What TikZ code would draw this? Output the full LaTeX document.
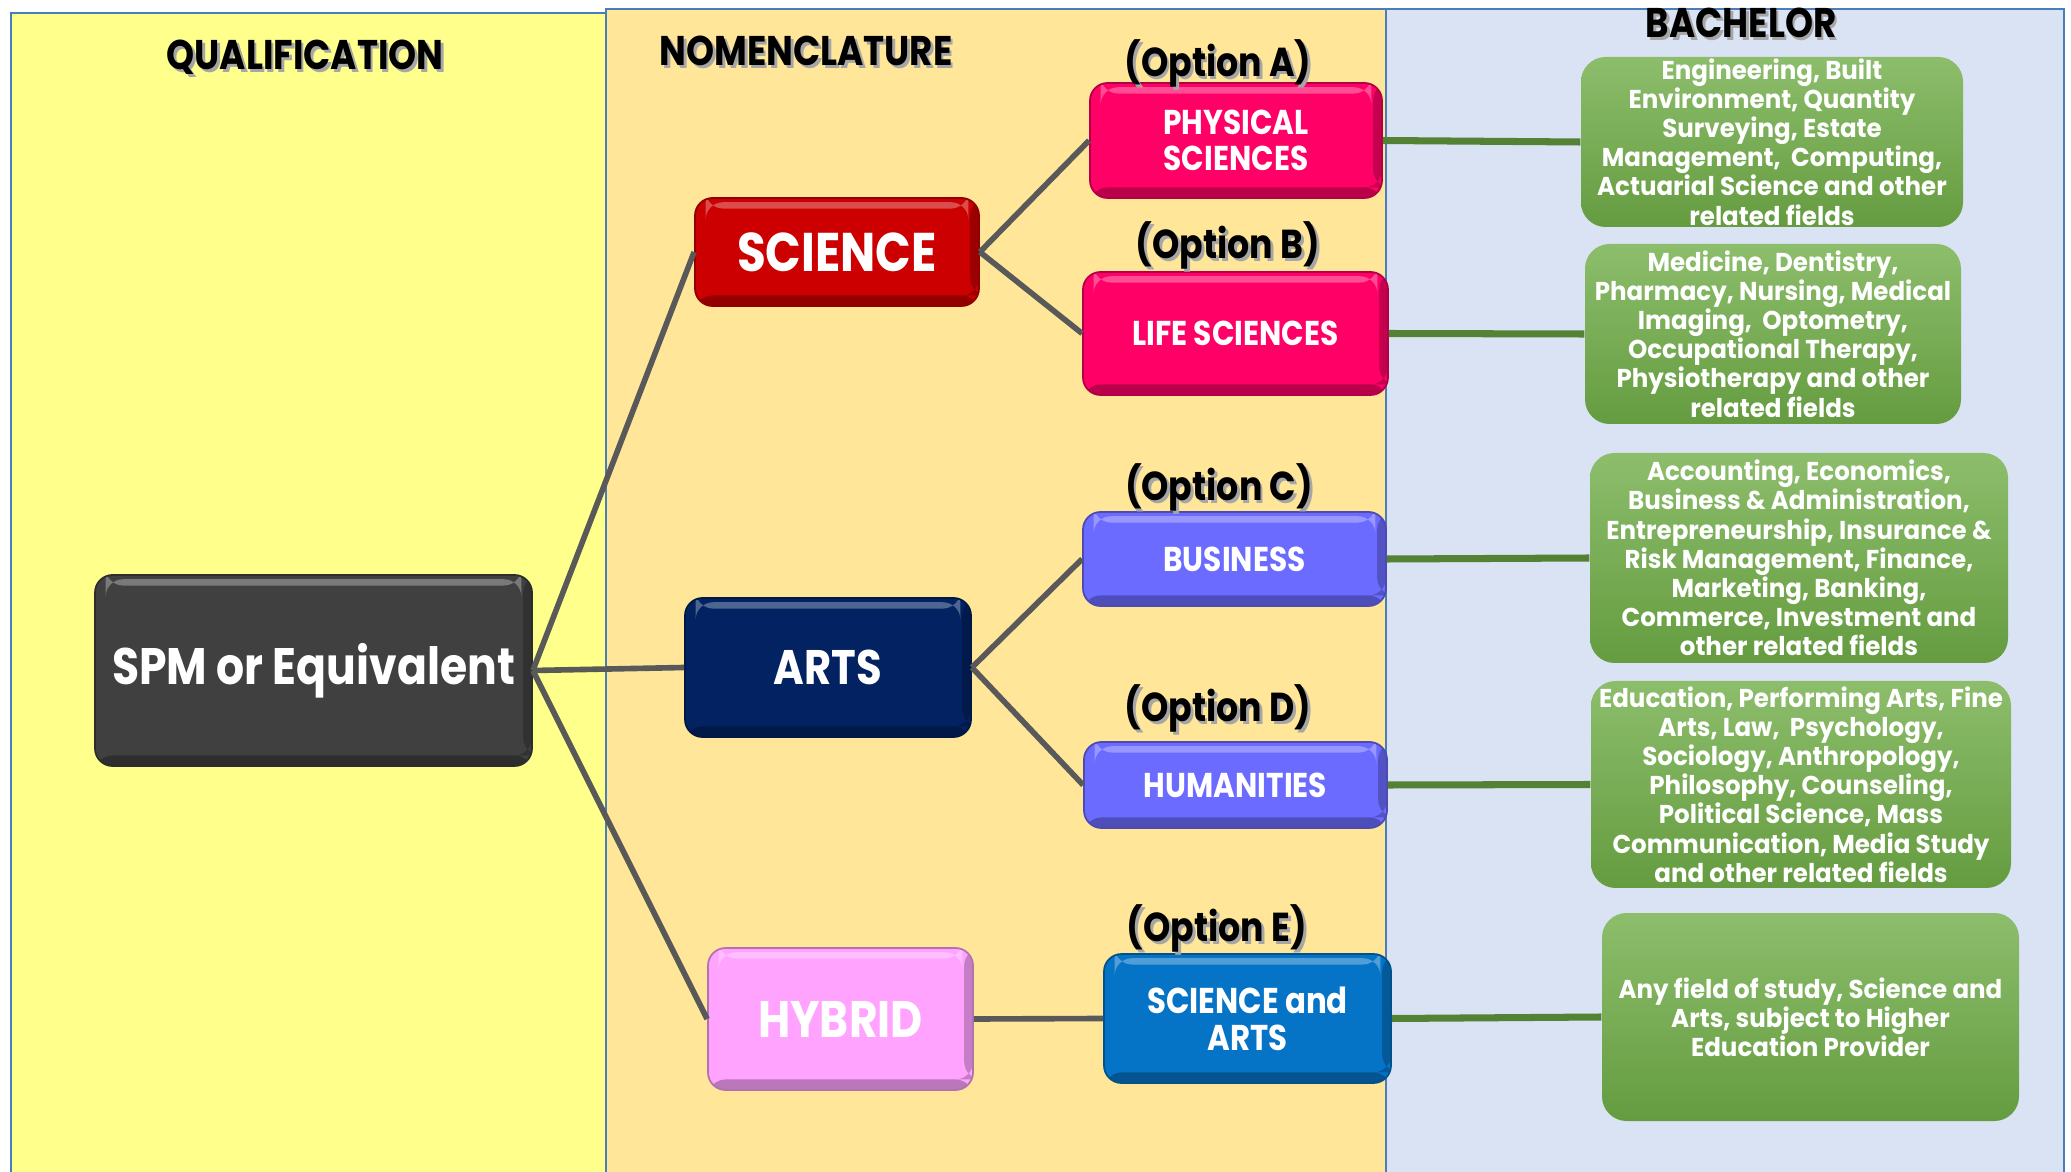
\documentclass[tikz,border=0pt]{standalone}
\usepackage{fontspec}
\setmainfont{Poppins}[FakeStretch=0.86]
\newfontfamily\fieldfont{Poppins}[FakeStretch=0.95]
\usetikzlibrary{shadows}

\definecolor{qualbg}{HTML}{FFFF8B}
\definecolor{nomenbg}{HTML}{FFE699}
\definecolor{bachbg}{HTML}{DAE3F3}
\definecolor{panelline}{HTML}{4A7EBB}
\definecolor{spmgray}{HTML}{404040}
\definecolor{scired}{HTML}{CC0000}
\definecolor{scipink}{HTML}{FF0066}
\definecolor{artsnavy}{HTML}{022262}
\definecolor{artsviolet}{HTML}{6B6BFF}
\definecolor{hybpink}{HTML}{FFA3FF}
\definecolor{hybblue}{HTML}{0574C6}
\definecolor{fieldgreen}{HTML}{70AD47}
\definecolor{linkgray}{HTML}{595959}
\definecolor{linkgreen}{HTML}{548235}

\newcommand{\shadowed}[1]{\makebox[0pt][l]{\hspace{0.8pt}\raisebox{-0.8pt}{\textcolor{black!35}{#1}}}#1}

\tikzset{
  panel/.style={draw=panelline, line width=0.6pt},
  heading/.style={font=\fontsize{11.8}{13}\selectfont\bfseries},
  option/.style={font=\fontsize{11.5}{13}\selectfont\bfseries},
  bevelbox/.style={rounded corners=5pt, fill=#1, draw=#1!70!black, line width=0.5pt,
    text=white, align=center, inner sep=0pt, font=\fontsize{9.8}{10.4}\selectfont\bfseries,
    path picture={
      \fill[#1!55!black, opacity=0.6] (path picture bounding box.south west) rectangle ([yshift=3pt]path picture bounding box.south east);
      \fill[#1!55!black, opacity=0.5] ([xshift=-2.5pt,yshift=3pt]path picture bounding box.south east) rectangle (path picture bounding box.north east);
      \fill[white, opacity=0.3] ([xshift=3pt,yshift=-1.2pt]path picture bounding box.north west) rectangle ([xshift=-3pt,yshift=-3pt]path picture bounding box.north east);
    }},
  bigbox/.style={bevelbox=#1, font=\fontsize{14.6}{16}\selectfont\bfseries},
  fieldbox/.style={rounded corners=7pt, top color=fieldgreen!80!white, bottom color=fieldgreen!90!black,
    text=white, align=center, inner sep=0pt, font=\fieldfont\fontsize{7.35}{8.3}\selectfont\bfseries},
  graylink/.style={draw=linkgray, line width=1.6pt},
  greenlink/.style={draw=linkgreen, line width=2pt},
}

\begin{document}
\begin{tikzpicture}
  \useasboundingbox (0,0) rectangle (20.71,11.71);

  % columns
  \filldraw[panel, fill=qualbg] (0.106,-0.2) rectangle (6.06,11.58);
  \filldraw[panel, fill=nomenbg] (6.06,-0.2) rectangle (13.86,11.62);
  \filldraw[panel, fill=bachbg] (13.86,-0.2) rectangle (20.64,11.62);

  \node[heading] (qualhead) at (3.05,11.12) {\shadowed{QUALIFICATION}};
  \node[heading] (nomenhead) at (8.06,11.19) {\shadowed{NOMENCLATURE}};
  \node[heading] (bachhead) at (17.41,11.47) {\shadowed{BACHELOR}};

  % qualification and streams
  \node[bigbox=spmgray, minimum width=4.37cm, minimum height=1.91cm] (spm) at (3.135,5.005) {SPM or Equivalent};
  \node[bigbox=scired, minimum width=2.84cm, minimum height=1.08cm, font=\fontsize{15.5}{17}\selectfont\bfseries] (science) at (8.37,9.19) {SCIENCE};
  \node[bigbox=artsnavy, minimum width=2.86cm, minimum height=1.39cm, font=\fontsize{13.8}{16}\selectfont\bfseries] (arts) at (8.28,5.035) {ARTS};
  \node[bigbox=hybpink, minimum width=2.65cm, minimum height=1.42cm] (hybrid) at (8.405,1.52) {HYBRID};

  % options
  \node[bevelbox=scipink, minimum width=2.92cm, minimum height=1.15cm] (phys) at (12.36,10.305) {PHYSICAL\\SCIENCES};
  \node[bevelbox=scipink, minimum width=3.05cm, minimum height=1.23cm] (life) at (12.355,8.375) {LIFE SCIENCES};
  \node[bevelbox=artsviolet, minimum width=3.03cm, minimum height=0.94cm] (business) at (12.345,6.12) {BUSINESS};
  \node[bevelbox=artsviolet, minimum width=3.03cm, minimum height=0.86cm] (humanities) at (12.355,3.86) {HUMANITIES};
  \node[bevelbox=hybblue, minimum width=2.87cm, minimum height=1.29cm, font=\fontsize{10.2}{10.6}\selectfont\bfseries] (sciarts) at (12.475,1.525) {SCIENCE and\\ARTS};

  \node[option] (optA) at (12.18,11.06) {\shadowed{(Option A)}};
  \node[option] (optB) at (12.28,9.24) {\shadowed{(Option B)}};
  \node[option] (optC) at (12.19,6.82) {\shadowed{(Option C)}};
  \node[option] (optD) at (12.18,4.61) {\shadowed{(Option D)}};
  \node[option] (optE) at (12.17,2.41) {\shadowed{(Option E)}};

  % bachelor fields
  \node[fieldbox, minimum width=3.82cm, minimum height=1.70cm] (fieldA) at (17.72,10.29)
    {Engineering, Built\\Environment, Quantity\\Surveying, Estate\\Management,~ Computing,\\Actuarial Science and other\\related fields};
  \node[fieldbox, minimum width=3.76cm, minimum height=1.80cm] (fieldB) at (17.73,8.37)
    {Medicine, Dentistry,\\Pharmacy, Nursing, Medical\\Imaging,~ Optometry,\\Occupational Therapy,\\Physiotherapy and other\\related fields};
  \node[fieldbox, minimum width=4.18cm, minimum height=2.10cm] (fieldC) at (17.99,6.13)
    {Accounting, Economics,\\Business \& Administration,\\Entrepreneurship, Insurance \&\\Risk Management, Finance,\\Marketing, Banking,\\Commerce, Investment and\\other related fields};
  \node[fieldbox, minimum width=4.20cm, minimum height=2.07cm] (fieldD) at (18.01,3.865)
    {Education, Performing Arts, Fine\\Arts, Law,~ Psychology,\\Sociology, Anthropology,\\Philosophy, Counseling,\\Political Science, Mass\\Communication, Media Study\\and other related fields};
  \node[fieldbox, minimum width=4.17cm, minimum height=2.08cm] (fieldE) at (18.105,1.54)
    {Any field of study, Science and\\Arts, subject to Higher\\Education Provider};

  \draw[graylink] (spm.east) -- (science.west);
  \draw[graylink] (spm.east) -- (arts.west);
  \draw[graylink] (spm.east) -- (hybrid.west);
  \draw[graylink] (science.east) -- (phys.west);
  \draw[graylink] (science.east) -- (life.west);
  \draw[graylink] (arts.east) -- (business.west);
  \draw[graylink] (arts.east) -- (humanities.west);
  \draw[graylink] (hybrid.east) -- (sciarts.west);

  \draw[greenlink] (phys.east) -- (fieldA.west);
  \draw[greenlink] (life.east) -- (fieldB.west);
  \draw[greenlink] (business.east) -- (fieldC.west);
  \draw[greenlink] (humanities.east) -- (fieldD.west);
  \draw[greenlink] (sciarts.east) -- (fieldE.west);
\end{tikzpicture}
\end{document}
